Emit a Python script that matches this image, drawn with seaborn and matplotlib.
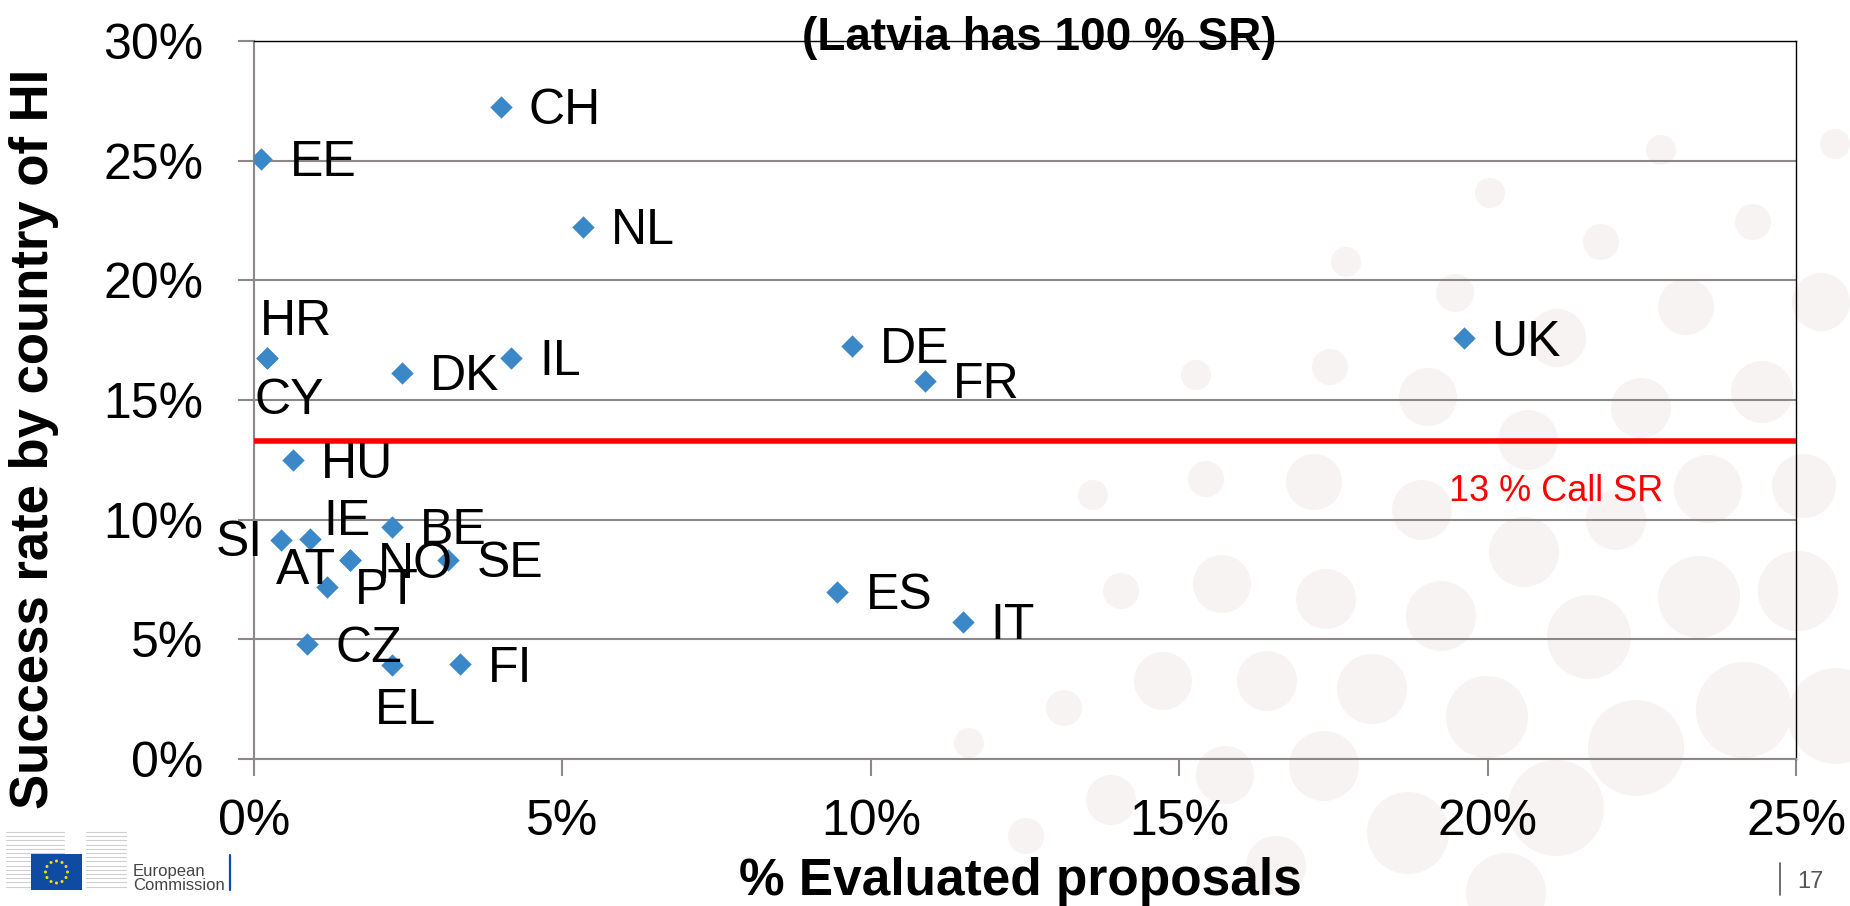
import numpy as np
import pandas as pd
import matplotlib
matplotlib.use("Agg")
import matplotlib.pyplot as plt
import seaborn as sns
from matplotlib.ticker import PercentFormatter, FixedLocator
from matplotlib.patches import Ellipse, Rectangle
from matplotlib.lines import Line2D

# ---------------- data ----------------
countries = ["CH", "EE", "NL", "HR", "CY", "DK", "IL", "DE", "FR", "UK", "HU",
             "SI", "IE", "BE", "AT", "NO", "SE", "PT", "CZ", "EL", "FI", "ES", "IT"]
evaluated_pct = [4.00, 0.12, 5.33, 0.21, 0.21, 2.40, 4.17, 9.69, 10.88, 19.61, 0.63,
                 0.44, 0.90, 2.24, 1.55, 1.56, 3.15, 1.18, 0.86, 2.24, 3.34, 9.46, 11.49]
success_pct = [27.25, 25.07, 22.23, 16.76, 16.76, 16.13, 16.76, 17.26, 15.81, 17.58, 12.49,
               9.15, 9.18, 9.71, 8.32, 8.30, 8.32, 7.20, 4.80, 3.93, 3.96, 6.99, 5.74]
call_sr_pct = 13.3
x_ticks = [0, 5, 10, 15, 20, 25]
y_ticks = [0, 5, 10, 15, 20, 25, 30]
title_text = "(Latvia has 100 % SR)"
x_label = "% Evaluated proposals"
y_label = "Success rate by country of HI"
call_label = "13 % Call SR"
page_number = "17"

# ---------------- styling ----------------
MARKER_COLOR = "#3B88C8"
GRID_COLOR = "#8C8888"
W, H = 1850, 906
PX2PT = 0.72

# label placement in pixels: (dx, dy to cap centre, positive = down, horizontal alignment)
DEFAULT_PLACEMENT = (28, 0, "left")
LABEL_PLACEMENT = {
    "HR": (-7, -40, "left"),
    "CY": (-12, 39, "left"),
    "SI": (-18, -2, "right"),
    "IE": (14, -22, "left"),
    "AT": (-14, 7, "right"),
    "EL": (-17, 42, "left"),
}

# faint decorative slide background circles (x, y, r) in pixels
BG_CIRCLES = [
    (1661, 150, 15), (1835, 144, 15), (1490, 193, 15), (1753, 222, 18), (1601, 242, 18),
    (1346, 262, 15), (1455, 293, 19), (1686, 307, 28), (1821, 302, 29), (1557, 338, 29),
    (1196, 375, 15), (1330, 367, 18), (1428, 397, 29), (1641, 408, 30), (1762, 392, 31),
    (1528, 440, 30), (1093, 495, 15), (1206, 479, 18), (1314, 482, 28), (1422, 510, 30),
    (1524, 552, 35), (1616, 520, 30), (1708, 489, 34), (1804, 486, 32), (1121, 591, 18),
    (1222, 584, 29), (1326, 599, 30), (1441, 616, 35), (1589, 637, 42), (1699, 597, 41),
    (1798, 591, 40), (969, 743, 15), (1064, 708, 18), (1163, 681, 29), (1267, 681, 30),
    (1372, 689, 35), (1487, 717, 41), (1636, 748, 48), (1744, 710, 48), (1836, 716, 48),
    (1026, 836, 18), (1111, 800, 25), (1225, 775, 29), (1324, 766, 35), (1408, 833, 41),
    (1556, 808, 48), (1506, 893, 40), (1276, 866, 30),
]

sns.set_style("white")
plt.rcParams["font.family"] = ["Liberation Sans", "DejaVu Sans"]

fig = plt.figure(figsize=(W / 100, H / 100), dpi=100, facecolor="white")

# background circles
for cx, cy, r in BG_CIRCLES:
    fig.add_artist(Ellipse((cx / W, 1 - cy / H), 2 * r / W, 2 * r / H,
                           transform=fig.transFigure, facecolor="#F7F3F2",
                           edgecolor="none", zorder=-2))

ax = fig.add_axes([254 / W, 1 - 759 / H, 1542 / W, 718 / H])
ax.set_facecolor("none")

df = pd.DataFrame({"country": countries, "evaluated": evaluated_pct, "success": success_pct})

ax.axhline(call_sr_pct, color="#FF0000", lw=4, zorder=3)
sns.scatterplot(data=df, x="evaluated", y="success", marker="D", s=130,
                color=MARKER_COLOR, linewidth=0, ax=ax, zorder=4, legend=False)

cap_half = 17.5
for c, xv, yv in zip(df["country"], df["evaluated"], df["success"]):
    dx, dy, ha = LABEL_PLACEMENT.get(c, DEFAULT_PLACEMENT)
    ax.annotate(c, (xv, yv), xytext=(dx * PX2PT, -(dy + cap_half) * PX2PT),
                textcoords="offset points", ha=ha, va="baseline",
                fontsize=36, color="black", zorder=5)

ax.text(19.37, 10.76, call_label, color="#FF0000", fontsize=26,
        ha="left", va="baseline", zorder=5)

ax.set_xlim(0, 25)
ax.set_ylim(0, 30)
ax.xaxis.set_major_locator(FixedLocator(x_ticks))
ax.yaxis.set_major_locator(FixedLocator(y_ticks))
ax.xaxis.set_major_formatter(PercentFormatter(xmax=100, decimals=0))
ax.yaxis.set_major_formatter(PercentFormatter(xmax=100, decimals=0))

ax.grid(axis="y", color=GRID_COLOR, lw=1.5)
ax.grid(axis="x", visible=False)
ax.set_axisbelow(True)

for side in ("left", "bottom"):
    ax.spines[side].set_color(GRID_COLOR)
    ax.spines[side].set_linewidth(1.5)
for side in ("top", "right"):
    ax.spines[side].set_color("black")
    ax.spines[side].set_linewidth(1.0)
    ax.spines[side].set_visible(True)

ax.tick_params(axis="both", which="major", direction="out", color=GRID_COLOR,
               width=1.5, labelsize=36, labelcolor="black")
ax.tick_params(axis="x", length=12, pad=17, bottom=True)
ax.tick_params(axis="y", length=11.5, pad=25, left=True)

ax.set_xlabel(x_label, fontsize=37, fontweight="bold", color="black")
ax.xaxis.set_label_coords(0.497, -0.137)
ax.set_ylabel(y_label, fontsize=38, fontweight="bold", color="black")
ax.yaxis.set_label_coords(-0.1265, 0.4457)

# title (partly behind the top frame line)
fig.text(1039 / W, 1 - 50 / H, title_text, ha="center", va="baseline",
         fontsize=33, fontweight="bold", color="black", zorder=-0.5)

# European Commission logo (simplified)
for i in range(14):
    yy = 1 - (832 + i * 4.2) / H
    fig.add_artist(Line2D([6 / W, 64 / W], [yy, yy], transform=fig.transFigure,
                          color="#CFCFCF", lw=0.8, zorder=1))
    fig.add_artist(Line2D([86 / W, 126 / W], [yy, yy], transform=fig.transFigure,
                          color="#CFCFCF", lw=0.8, zorder=1))
fig.add_artist(Rectangle((31 / W, 1 - 890 / H), 51 / W, 36 / H, transform=fig.transFigure,
                         facecolor="#0F4BA3", edgecolor="none", zorder=2))
for k in range(12):
    ang = 2 * np.pi * k / 12
    sx = 56.5 + 11 * np.cos(ang)
    sy = 872 + 11 * np.sin(ang)
    fig.add_artist(Ellipse((sx / W, 1 - sy / H), 3 / W, 3 / H, transform=fig.transFigure,
                           facecolor="#FFDD00", edgecolor="none", zorder=3))
fig.text(133 / W, 1 - 876 / H, "European", fontsize=12, color="#444444",
         ha="left", va="baseline")
fig.text(133 / W, 1 - 890 / H, "Commission", fontsize=12, color="#444444",
         ha="left", va="baseline")
fig.add_artist(Line2D([230 / W, 230 / W], [1 - 855 / H, 1 - 890 / H],
                      transform=fig.transFigure, color="#0F4BA3", lw=1.6))

# page number
fig.add_artist(Line2D([1780 / W, 1780 / W], [1 - 863 / H, 1 - 895 / H],
                      transform=fig.transFigure, color="#555555", lw=1.2))
fig.text(1797 / W, 1 - 888 / H, page_number, fontsize=17, color="#555555",
         ha="left", va="baseline")

fig.savefig("out.png", dpi=100, facecolor="white")
